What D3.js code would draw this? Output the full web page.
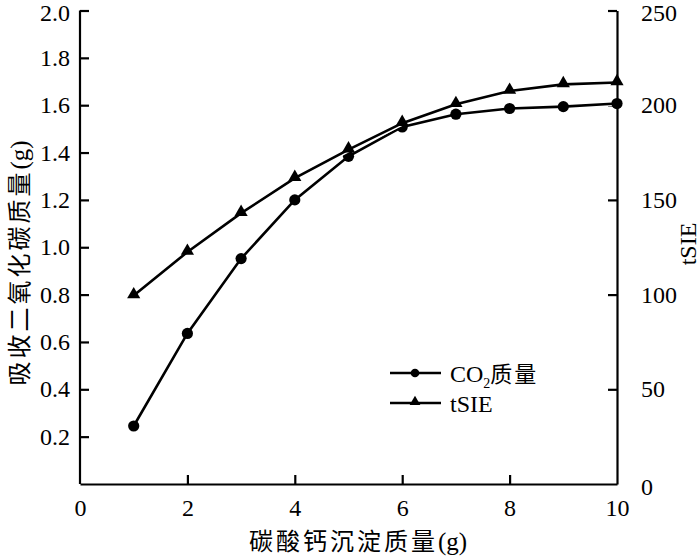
<!DOCTYPE html>
<html>
<head>
<meta charset="utf-8">
<script src="https://cdn.jsdelivr.net/npm/d3@7"></script>
<style>
  body { margin: 0; background: #fff; }
  svg { display: block; }
  .tick text { font-family: "Liberation Serif", "Times New Roman", serif; font-size: 24px; fill: #000; }
</style>
</head>
<body>
<div id="wrapper"></div>
<script>
// data
const xValues = [1, 2, 3, 4, 5, 6, 7, 8, 9, 10]
const co2Mass = [0.245, 0.636, 0.952, 1.2, 1.384, 1.508, 1.562, 1.586, 1.594, 1.607]
const tsieValues = [99.5, 122.5, 143, 161.5, 176.5, 190.5, 200.5, 207.5, 211, 212]
const xTicks = [0, 2, 4, 6, 8, 10]
const leftTicks = [0.2, 0.4, 0.6, 0.8, 1.0, 1.2, 1.4, 1.6, 1.8, 2.0]
const rightTicks = [0, 50, 100, 150, 200, 250]
const seriesNames = ["CO2质量", "tSIE"]

function drawChart() {
  const dimensions = {
    width: 700,
    height: 558,
    margin: { top: 10.5, right: 83, bottom: 74, left: 80 },
  }
  dimensions.boundedWidth = dimensions.width - dimensions.margin.left - dimensions.margin.right
  dimensions.boundedHeight = dimensions.height - dimensions.margin.top - dimensions.margin.bottom

  const wrapper = d3.select("#wrapper")
    .append("svg")
    .attr("width", dimensions.width)
    .attr("height", dimensions.height)

  const bounds = wrapper.append("g")
    .attr("transform", `translate(${dimensions.margin.left}, ${dimensions.margin.top})`)

  const xScaler = d3.scaleLinear()
    .domain([0, 10])
    .range([0, dimensions.boundedWidth])

  const yLeft = d3.scaleLinear()
    .domain([0, 2.0])
    .range([dimensions.boundedHeight, 0])

  const yRight = d3.scaleLinear()
    .domain([0, 250])
    .range([dimensions.boundedHeight, 0])

  // axes, ticks pointing inward
  const styleAxis = g => {
    g.select(".domain").attr("stroke", "#000").attr("stroke-width", 2.2)
    g.selectAll(".tick line").attr("stroke", "#000").attr("stroke-width", 2.2)
  }

  bounds.append("g")
    .attr("transform", `translate(0, ${dimensions.boundedHeight})`)
    .call(d3.axisBottom(xScaler).tickValues(xTicks).tickSizeInner(-9).tickSizeOuter(0).tickPadding(15))
    .call(styleAxis)
    .call(g => g.selectAll(".tick").filter(d => d === 0).select("line").remove())
    .call(g => g.selectAll(".tick").filter(d => d === 10).select("line").remove())

  bounds.append("g")
    .call(d3.axisLeft(yLeft).tickValues(leftTicks).tickFormat(d3.format(".1f")).tickSizeInner(-9).tickSizeOuter(0).tickPadding(10))
    .call(styleAxis)
    .call(g => g.select(".domain").attr("d", `M0,${yLeft(2.0)}V${dimensions.boundedHeight}`))
    .call(g => g.selectAll(".tick").filter(d => d === 2.0).select("text").attr("dy", "0.42em"))

  bounds.append("g")
    .attr("transform", `translate(${dimensions.boundedWidth}, 0)`)
    .call(d3.axisRight(yRight).tickValues(rightTicks).tickSizeInner(-9).tickSizeOuter(0).tickPadding(24))
    .call(styleAxis)
    .call(g => g.selectAll(".tick").filter(d => d === 0).select("line").remove())
    .call(g => g.selectAll(".tick").filter(d => d === 0).select("text").attr("dy", "0.45em"))
    .call(g => g.selectAll(".tick").filter(d => d === 250).select("text").attr("dy", "0.42em"))

  // series
  const co2Points = xValues.map((x, i) => ({ x, y: co2Mass[i] }))
  const tsiePoints = xValues.map((x, i) => ({ x, y: tsieValues[i] }))

  const co2Line = d3.line().x(d => xScaler(d.x)).y(d => yLeft(d.y))
  const tsieLine = d3.line().x(d => xScaler(d.x)).y(d => yRight(d.y))

  const triangle = d3.symbol().type(d3.symbolTriangle).size(75)

  const co2Group = bounds.append("g")
  co2Group.append("path").datum(co2Points)
    .attr("d", co2Line).attr("fill", "none").attr("stroke", "#fff").attr("stroke-width", 5)
  co2Group.append("path").datum(co2Points)
    .attr("d", co2Line).attr("fill", "none").attr("stroke", "#000").attr("stroke-width", 2.6)
  co2Group.selectAll("circle").data(co2Points).join("circle")
    .attr("cx", d => xScaler(d.x))
    .attr("cy", d => yLeft(d.y))
    .attr("r", 5.6)
    .attr("fill", "#000")

  const tsieGroup = bounds.append("g")
  tsieGroup.append("path").datum(tsiePoints)
    .attr("d", tsieLine).attr("fill", "none").attr("stroke", "#fff").attr("stroke-width", 5)
  tsieGroup.append("path").datum(tsiePoints)
    .attr("d", tsieLine).attr("fill", "none").attr("stroke", "#000").attr("stroke-width", 2.6)
  tsieGroup.selectAll(".tri").data(tsiePoints).join("path")
    .attr("class", "tri")
    .attr("d", triangle)
    .attr("transform", d => `translate(${xScaler(d.x)}, ${yRight(d.y) - 1})`)
    .attr("fill", "#000")

  // axis titles
  wrapper.append("text")
    .attr("transform", `translate(28, 263) rotate(-90)`)
    .attr("text-anchor", "middle")
    .attr("font-size", "24px")
    .attr("fill", "#000")
    .call(t => {
      t.append("tspan").attr("font-family", "'Noto Sans CJK SC', sans-serif").attr("letter-spacing", "3px").text("吸收二氧化碳质量")
      t.append("tspan").attr("font-family", "'Liberation Serif', serif").attr("font-size", "25px").text("(g)")
    })

  wrapper.append("text")
    .attr("x", 358)
    .attr("y", 550)
    .attr("text-anchor", "middle")
    .attr("font-size", "24px")
    .attr("fill", "#000")
    .call(t => {
      t.append("tspan").attr("font-family", "'Noto Sans CJK SC', sans-serif").attr("letter-spacing", "3px").text("碳酸钙沉淀质量")
      t.append("tspan").attr("font-family", "'Liberation Serif', serif").attr("font-size", "25px").text("(g)")
    })

  wrapper.append("text")
    .attr("transform", `translate(696, 244) rotate(-90)`)
    .attr("text-anchor", "middle")
    .attr("font-family", "'Liberation Serif', serif")
    .attr("font-size", "24px")
    .attr("fill", "#000")
    .text("tSIE")

  // legend
  const legend = wrapper.append("g").attr("transform", "translate(390, 373)")
  const legendRows = legend.selectAll("g").data(seriesNames).join("g")
    .attr("transform", (d, i) => `translate(0, ${i * 30})`)
  legendRows.append("line")
    .attr("x1", 0).attr("x2", 51).attr("y1", 0).attr("y2", 0)
    .attr("stroke", "#000").attr("stroke-width", 2.6)
  legendRows.filter((d, i) => i === 0).append("circle")
    .attr("cx", 25).attr("cy", 0).attr("r", 4.3).attr("fill", "#000")
  legendRows.filter((d, i) => i === 1).append("path")
    .attr("d", d3.symbol().type(d3.symbolTriangle).size(50))
    .attr("transform", "translate(25, -1)").attr("fill", "#000")

  const legendText = legendRows.append("text")
    .attr("x", 60).attr("y", 9)
    .attr("font-size", "24px")
    .attr("fill", "#000")
  legendText.filter((d, i) => i === 0).call(t => {
    t.append("tspan").attr("font-family", "'Liberation Serif', serif").text("CO")
    t.append("tspan").attr("font-family", "'Liberation Serif', serif").attr("font-size", "14px").attr("dy", 6).text("2")
    t.append("tspan").attr("font-family", "'Noto Sans CJK SC', sans-serif").attr("dy", -6).attr("font-size", "22px").attr("letter-spacing", "2px").text("质量")
  })
  legendText.filter((d, i) => i === 1)
    .attr("font-family", "'Liberation Serif', serif")
    .text(d => d)
}

drawChart()
</script>
</body>
</html>
